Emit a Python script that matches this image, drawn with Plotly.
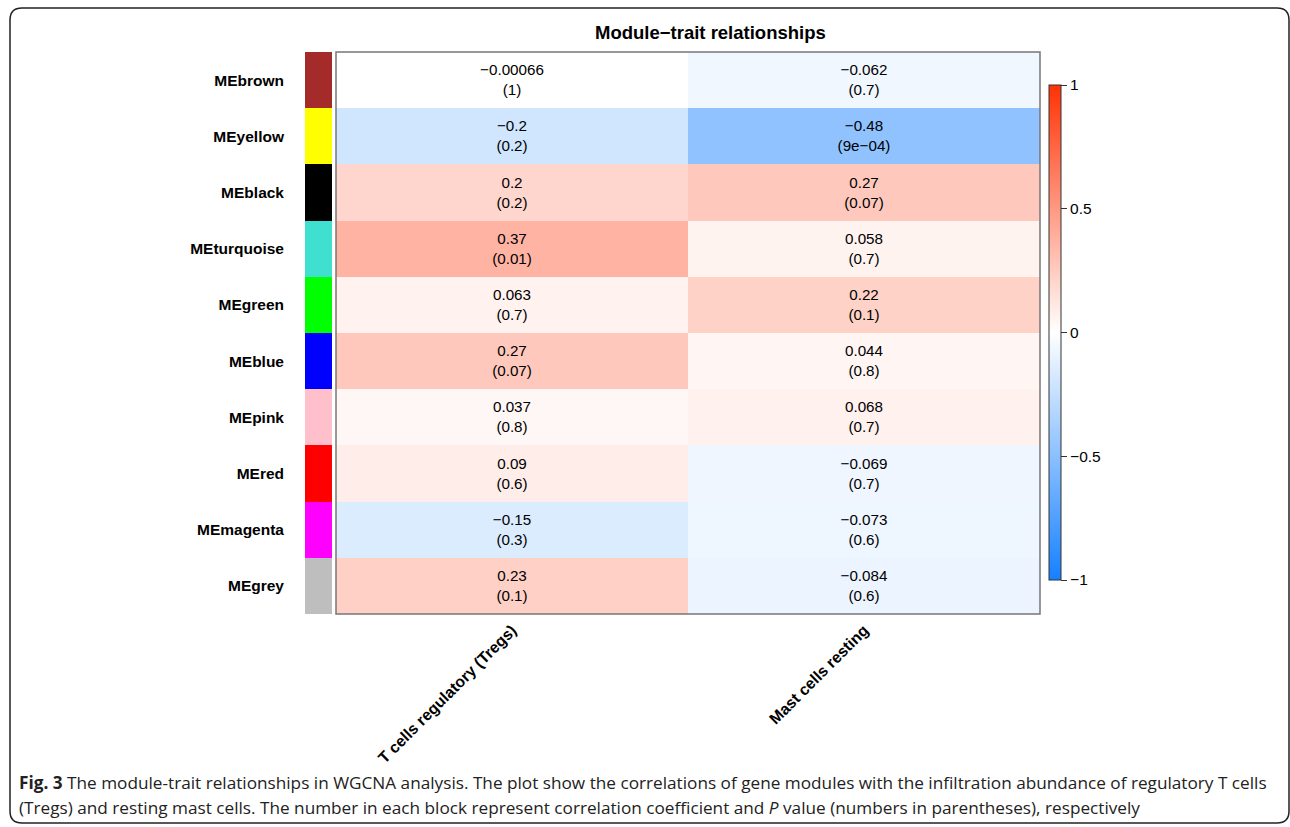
import plotly.graph_objects as go

modules = ["MEbrown", "MEyellow", "MEblack", "MEturquoise", "MEgreen",
           "MEblue", "MEpink", "MEred", "MEmagenta", "MEgrey"]
module_colors = ["#A52A2A", "#FFFF00", "#000000", "#40E0D0", "#00FF00",
                 "#0000FF", "#FFC0CB", "#FF0000", "#FF00FF", "#BEBEBE"]
traits = ["T cells regulatory (Tregs)", "Mast cells resting"]

cor_tregs = [-0.00066, -0.2, 0.2, 0.37, 0.063, 0.27, 0.037, 0.09, -0.15, 0.23]
p_tregs = ["1", "0.2", "0.2", "0.01", "0.7", "0.07", "0.8", "0.6", "0.3", "0.1"]
cor_mast = [-0.062, -0.48, 0.27, 0.058, 0.22, 0.044, 0.068, -0.069, -0.073, -0.084]
p_mast = ["0.7", "9e-04", "0.07", "0.7", "0.1", "0.8", "0.7", "0.7", "0.6", "0.6"]

W, H = 1290, 827
def px(x): return x / W
def py(y): return 1 - y / H

MINUS = "\u2212"
def fmt(v):
    return f"{v:g}".replace("-", MINUS)

z = [[a, b] for a, b in zip(cor_tregs, cor_mast)]
text = [[f"{fmt(a)}<br>({pa.replace('-', MINUS)})", f"{fmt(b)}<br>({pb.replace('-', MINUS)})"]
        for a, b, pa, pb in zip(cor_tregs, cor_mast, p_tregs, p_mast)]

colorscale = [[0.0, "rgb(22,128,255)"], [0.5, "rgb(255,255,255)"], [1.0, "rgb(255,50,5)"]]
FONT = "Liberation Sans, Arial, sans-serif"

fig = go.Figure()
fig.add_trace(go.Heatmap(
    z=z, x=traits, y=modules, text=text, texttemplate="%{text}",
    textfont=dict(family=FONT, size=15.2, color="black"),
    colorscale=colorscale, zmin=-1, zmax=1, xgap=0, ygap=0,
    hoverinfo="skip",
    colorbar=dict(
        x=px(1049), xanchor="left", y=py(332.5), yanchor="middle",
        len=495 / H, lenmode="fraction", thickness=12, thicknessmode="pixels",
        xpad=0, ypad=0,
        outlinecolor="#333", outlinewidth=1,
        tickvals=[-1, -0.5, 0, 0.5, 1], ticktext=[MINUS + "1", MINUS + "0.5", "0", "0.5", "1"],
        ticks="outside", ticklen=6, tickcolor="#333",
        tickfont=dict(family=FONT, size=15.5, color="black"),
    ),
    xaxis="x", yaxis="y",
))

n = len(module_colors)
strip_scale = [[i / (n - 1), c] for i, c in enumerate(module_colors)]
fig.add_trace(go.Heatmap(
    z=[[i] for i in range(n)], x=["strip"], y=modules,
    colorscale=strip_scale, zmin=0, zmax=n - 1, showscale=False,
    hoverinfo="skip", xaxis="x2", yaxis="y",
))

fig.update_layout(
    width=W, height=H, margin=dict(l=0, r=0, t=0, b=0),
    paper_bgcolor="white", plot_bgcolor="white",
    xaxis=dict(domain=[px(336), px(1040)], anchor="y", tickangle=-45,
               tickvals=traits, ticktext=[f"<b>{t}</b>" for t in traits],
               tickfont=dict(family=FONT, size=15.8, color="black"),
               showgrid=False, zeroline=False, ticks="", ticklabelstandoff=3),
    xaxis2=dict(domain=[px(305), px(332)], anchor="y", showticklabels=False,
                showgrid=False, zeroline=False, ticks=""),
    yaxis=dict(domain=[py(614), py(52)], anchor="x2", autorange="reversed",
               tickvals=modules, ticktext=[f"<b>{m}</b>" for m in modules],
               tickfont=dict(family=FONT, size=15.5, color="black"),
               showgrid=False, zeroline=False, ticks="", ticklabelstandoff=20),
    font=dict(family=FONT, color="black"),
)

# heatmap border
fig.add_shape(type="rect", xref="paper", yref="paper",
              x0=px(336), x1=px(1040), y0=py(614), y1=py(52),
              line=dict(color="#777", width=1.5), fillcolor="rgba(0,0,0,0)")

# title
fig.add_annotation(text="<b>Module\u2212trait relationships</b>", xref="paper", yref="paper",
                   x=px(710), y=py(32), xanchor="center", yanchor="middle", showarrow=False,
                   font=dict(family=FONT, size=18.5, color="black"))

# caption
cap_font = dict(family="Open Sans, sans-serif", size=17.2, color="#222")
fig.add_annotation(
    text="<b>Fig. 3</b> The module-trait relationships in WGCNA analysis. The plot show the correlations of gene modules with the infiltration abundance of regulatory T cells",
    xref="paper", yref="paper", x=px(17), y=py(782), xanchor="left", yanchor="middle",
    showarrow=False, font=cap_font)
fig.add_annotation(
    text="(Tregs) and resting mast cells. The number in each block represent correlation coefficient and <i>P</i> value (numbers in parentheses), respectively",
    xref="paper", yref="paper", x=px(17), y=py(807), xanchor="left", yanchor="middle",
    showarrow=False, font=cap_font)

# rounded frame
x0, x1, y0, y1, r = 10, 1289, 8, 823, 12
path = (f"M {px(x0+r)} {py(y0)} L {px(x1-r)} {py(y0)} Q {px(x1)} {py(y0)} {px(x1)} {py(y0+r)} "
        f"L {px(x1)} {py(y1-r)} Q {px(x1)} {py(y1)} {px(x1-r)} {py(y1)} "
        f"L {px(x0+r)} {py(y1)} Q {px(x0)} {py(y1)} {px(x0)} {py(y1-r)} "
        f"L {px(x0)} {py(y0+r)} Q {px(x0)} {py(y0)} {px(x0+r)} {py(y0)} Z")
fig.add_shape(type="path", xref="paper", yref="paper", path=path,
              line=dict(color="#222", width=1.5), fillcolor="rgba(0,0,0,0)")

fig.write_html("out.html", config={"displayModeBar": False},
               post_script="document.body.style.margin='0';document.body.style.padding='0';document.body.style.overflow='hidden';")
